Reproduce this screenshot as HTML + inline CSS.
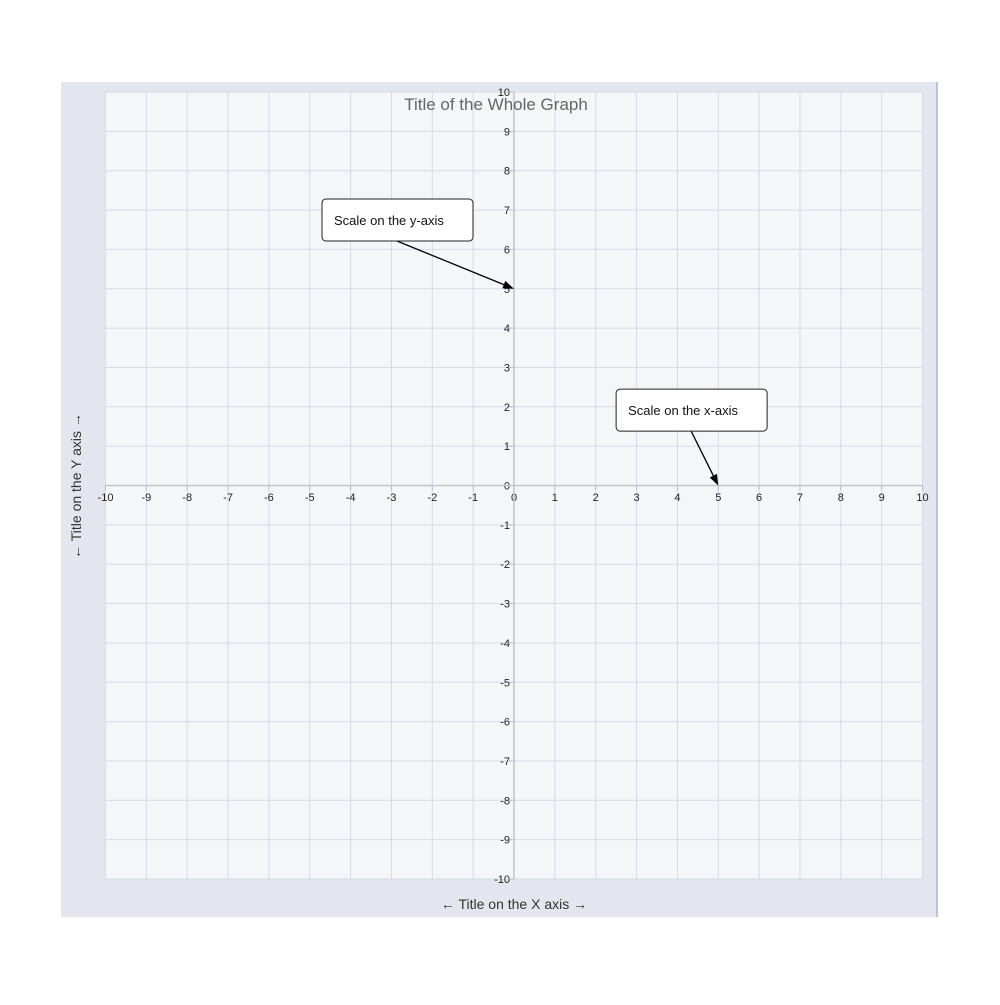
<!DOCTYPE html>
<html><head><meta charset="utf-8"><style>
body{margin:0;background:#fff;font-family:"Liberation Sans",sans-serif}
svg text{font-family:"Liberation Sans",sans-serif}
</style></head><body>
<svg width="1000" height="1000">
<rect x="61" y="82" width="876" height="835" fill="#e3e6ef"/>
<line x1="937" y1="82" x2="937" y2="917" stroke="#a9b4cf" stroke-width="1.5"/>
<rect x="105" y="92" width="817" height="787" fill="#f5f6f8"/>
<g id="grid"></g><g id="axes"></g>
<text x="496" y="110" text-anchor="middle" font-size="17" fill="#666">Title of the Whole Graph</text>
<text x="514" y="909" text-anchor="middle" font-size="14" fill="#333">← Title on the X axis →</text>
<text transform="translate(81,486) rotate(-90)" text-anchor="middle" font-size="14" fill="#333">← Title on the Y axis →</text>
<g id="ann"></g>
</svg>
<script>
const ticks=[-10,-9,-8,-7,-6,-5,-4,-3,-2,-1,0,1,2,3,4,5,6,7,8,9,10];
const annTexts=["Scale on the y-axis","Scale on the x-axis"];
const annTargets=[[0,5],[5,0]];
const annBoxes=[[-4.7,7.28],[2.5,2.45]];
const X=v=>514+v*40.85, Y=v=>485.5-v*39.35;
const ns="http://www.w3.org/2000/svg";
function mk(t,a,p){const e=document.createElementNS(ns,t);for(const k in a)e.setAttribute(k,a[k]);p.appendChild(e);return e;}
const g=document.getElementById('grid'),ax=document.getElementById('axes'),an=document.getElementById('ann');
ticks.forEach(v=>{
 if(v!==0){
  const l=mk('line',{x1:X(v),x2:X(v),y1:92,y2:879,stroke:'#d6dae9','stroke-width':1},g);
  
  
  const h=mk('line',{x1:105,x2:922,y1:Y(v),y2:Y(v),stroke:'#d6dae9','stroke-width':1},g);
  
  
 }
 const tx=mk('text',{x:X(v),y:501,'text-anchor':'middle','font-size':11,fill:'#222'},ax);tx.textContent=v;
 
 
 const ty=mk('text',{x:510,y:Y(v)+4,'text-anchor':'end','font-size':11,fill:'#222'},ax);ty.textContent=v;
 
 
 mk('line',{x1:X(v),x2:X(v),y1:485.5,y2:490,stroke:'#bbb'},ax);
 mk('line',{x1:509,x2:514,y1:Y(v),y2:Y(v),stroke:'#bbb'},ax);
});
const xa=mk('line',{x1:105,x2:922,y1:485.5,y2:485.5,stroke:'#c4c4c4','stroke-width':1.5},ax);


const ya=mk('line',{x1:514,x2:514,y1:92,y2:879,stroke:'#c4c4c4','stroke-width':1.5},ax);


annTexts.forEach((t,i)=>{
 const bx=X(annBoxes[i][0]),by=Y(annBoxes[i][1]),w=151,h=42;
 const tx=X(annTargets[i][0]),ty=Y(annTargets[i][1]);
 const sx=bx+75, sy=by+h;
 const ang=Math.atan2(ty-sy,tx-sx),L=11;
 const ln=mk('line',{x1:sx,y1:sy,x2:tx-Math.cos(ang)*L,y2:ty-Math.sin(ang)*L,stroke:'#000','stroke-width':1.3},an);
 
 
 const p=[[tx,ty],[tx-L*Math.cos(ang)+4*Math.sin(ang),ty-L*Math.sin(ang)-4*Math.cos(ang)],[tx-L*Math.cos(ang)-4*Math.sin(ang),ty-L*Math.sin(ang)+4*Math.cos(ang)]];
 mk('polygon',{points:p.map(q=>q.join(',')).join(' '),fill:'#000'},an);
 const r=mk('rect',{x:bx,y:by,width:w,height:h,rx:4,fill:'#fff',stroke:'#222','stroke-width':1},an);
 
 
 const te=mk('text',{x:bx+12,y:by+26,'font-size':13,fill:'#111'},an);te.textContent=t;
 
 
});
</script>
</body></html>
